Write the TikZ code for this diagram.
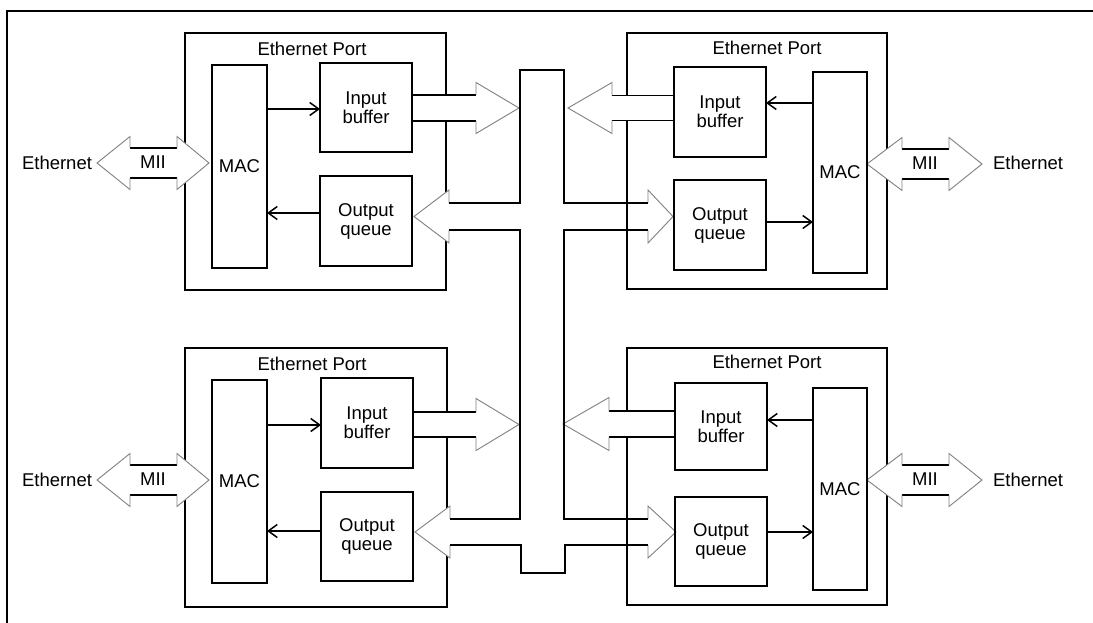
\documentclass[tikz,border=0pt]{standalone}
\usepackage{fontspec}
\setmainfont{Liberation Sans}
\usetikzlibrary{arrows.meta}
\newcommand{\lblfont}{\fontsize{18.5}{19}\selectfont}
\tikzset{
  box/.style={draw, line width=1.8pt, inner sep=0pt, outer sep=0pt, align=center, font=\lblfont},
  lbl/.style={inner sep=0pt, font=\lblfont},
  sarr/.style={line width=1.5pt, -{Straight Barb[length=9pt,width=13pt,line width=1.5pt]}},
  shaftline/.style={line width=1.5pt, black},
  headline/.style={line width=0.9pt, black!50, line join=miter},
  busline/.style={line width=2pt, black, line join=miter},
  frameline/.style={line width=2pt, black}
}
% box node from (x1,y1) to (x2,y2)
\newcommand{\bx}[6]{\node[box, minimum width={(#4-#2)*1pt}, minimum height={(#5-#3)*1pt}] (#1) at ({(#2+#4)/2},{(#3+#5)/2}) {#6};}
% hollow single arrow: shaft start x, head base x, tip x, centre y, shaft half height, head half height
\newcommand{\harrow}[6]{%
 \fill[white] (#1,#4-#5) -- (#2,#4-#5) -- (#2,#4-#6) -- (#3,#4) -- (#2,#4+#6) -- (#2,#4+#5) -- (#1,#4+#5) -- cycle;
 \draw[shaftline] (#1,#4-#5) -- (#2,#4-#5) (#1,#4+#5) -- (#2,#4+#5);
 \draw[headline] (#2,#4-#5) -- (#2,#4-#6) -- (#3,#4) -- (#2,#4+#6) -- (#2,#4+#5);
}
% hollow head only: base x, tip x, centre y, shaft half, head half
\newcommand{\hhead}[5]{%
 \fill[white] (#1,#3-#5) -- (#2,#3) -- (#1,#3+#5) -- cycle;
 \draw[headline] (#1,#3-#4) -- (#1,#3-#5) -- (#2,#3) -- (#1,#3+#5) -- (#1,#3+#4);
}
% hollow double arrow: tipL baseL baseR tipR yc shaft-half head-half
\newcommand{\dharrow}[7]{%
 \fill[white] (#1,#5) -- (#2,#5-#7) -- (#2,#5-#6) -- (#3,#5-#6) -- (#3,#5-#7) -- (#4,#5) -- (#3,#5+#7) -- (#3,#5+#6) -- (#2,#5+#6) -- (#2,#5+#7) -- cycle;
 \draw[shaftline] (#2,#5-#6) -- (#3,#5-#6) (#2,#5+#6) -- (#3,#5+#6);
 \draw[headline] (#2,#5-#6) -- (#2,#5-#7) -- (#1,#5) -- (#2,#5+#7) -- (#2,#5+#6);
 \draw[headline] (#3,#5-#6) -- (#3,#5-#7) -- (#4,#5) -- (#3,#5+#7) -- (#3,#5+#6);
}
\begin{document}
\begin{tikzpicture}[x=1pt,y=-1pt]
\useasboundingbox (0,0) rectangle (1093,623);
\fill[white] (0,0) rectangle (1093,623);
% outer frame
\draw[frameline] (7,623) -- (7,11) -- (1093,11);
% ports
\bx{p1}{185}{33}{446}{290}{}
\bx{p2}{627}{33}{887}{289}{}
\bx{p3}{185}{348}{447}{607}{}
\bx{p4}{627}{348}{887}{605}{}
\node[lbl] (t1) at (312,49) {Ethernet Port};
\node[lbl] (t2) at (767,48) {Ethernet Port};
\node[lbl] (t3) at (312,364) {Ethernet Port};
\node[lbl] (t4) at (767,362) {Ethernet Port};
% input arrows to the bus
\harrow{412}{476}{519}{108}{13}{25.5}
\harrow{674}{612}{568}{108}{12.5}{25.5}
\harrow{413}{476}{519}{424.5}{12.5}{26}
\harrow{676}{609}{563}{424}{13}{26.5}
% MII arrows
\dharrow{97}{130}{177}{209}{163}{15}{26.5}
\dharrow{97}{130}{177}{209}{480}{15}{26.5}
\dharrow{867}{902}{949}{982}{164}{15}{26.5}
\dharrow{867}{902}{949}{982}{480}{15}{26.5}
\node[lbl] (m1) at (153,162) {MII};
\node[lbl] (m2) at (153,479) {MII};
\node[lbl] (m3) at (925,163) {MII};
\node[lbl] (m4) at (925,479) {MII};
\node[lbl] (e1) at (57,163) {Ethernet};
\node[lbl] (e2) at (57,480) {Ethernet};
\node[lbl] (e3) at (1028,163) {Ethernet};
\node[lbl] (e4) at (1028,480) {Ethernet};
% output heads
\hhead{449}{414}{216.5}{13.5}{26.5}
\hhead{648}{673}{216.5}{13.5}{26.5}
\hhead{450}{415}{532}{13}{26}
\hhead{648}{676}{532}{13}{26}
% bus
\draw[busline] (449,203) -- (520,203) -- (520,70) -- (564,70) -- (564,203) -- (648,203);
\draw[busline] (449,230) -- (520,230) -- (520,519) -- (450,519);
\draw[busline] (648,230) -- (564,230) -- (564,519) -- (648,519);
\draw[busline] (450,545) -- (521,545) -- (521,573) -- (565,573) -- (565,545) -- (648,545);
% inner boxes
\bx{mac1}{212}{65}{267}{268}{MAC}
\bx{in1}{320}{63}{412}{152}{Input\\buffer}
\bx{out1}{320}{176}{412}{266}{Output\\queue}
\bx{mac2}{813}{72}{867}{273}{MAC}
\bx{in2}{674}{67}{766}{157}{Input\\buffer}
\bx{out2}{674}{180}{766}{270}{Output\\queue}
\bx{mac3}{212}{380}{267}{583}{MAC}
\bx{in3}{321}{378}{413}{468}{Input\\buffer}
\bx{out3}{321}{492}{413}{581}{Output\\queue}
\bx{mac4}{813}{388}{867}{590}{MAC}
\bx{in4}{675}{383}{767}{470}{Input\\buffer}
\bx{out4}{675}{497}{767}{586}{Output\\queue}
% small arrows
\draw[sarr] (mac1.east |- 0,109) -- (in1.west |- 0,109);
\draw[sarr] (out1.west |- 0,213) -- (mac1.east |- 0,213);
\draw[sarr] (mac2.west |- 0,103) -- (in2.east |- 0,103);
\draw[sarr] (out2.east |- 0,222) -- (mac2.west |- 0,222);
\draw[sarr] (mac3.east |- 0,425) -- (in3.west |- 0,425);
\draw[sarr] (out3.west |- 0,531) -- (mac3.east |- 0,531);
\draw[sarr] (mac4.west |- 0,420) -- (in4.east |- 0,420);
\draw[sarr] (out4.east |- 0,532) -- (mac4.west |- 0,532);
\end{tikzpicture}
\end{document}
